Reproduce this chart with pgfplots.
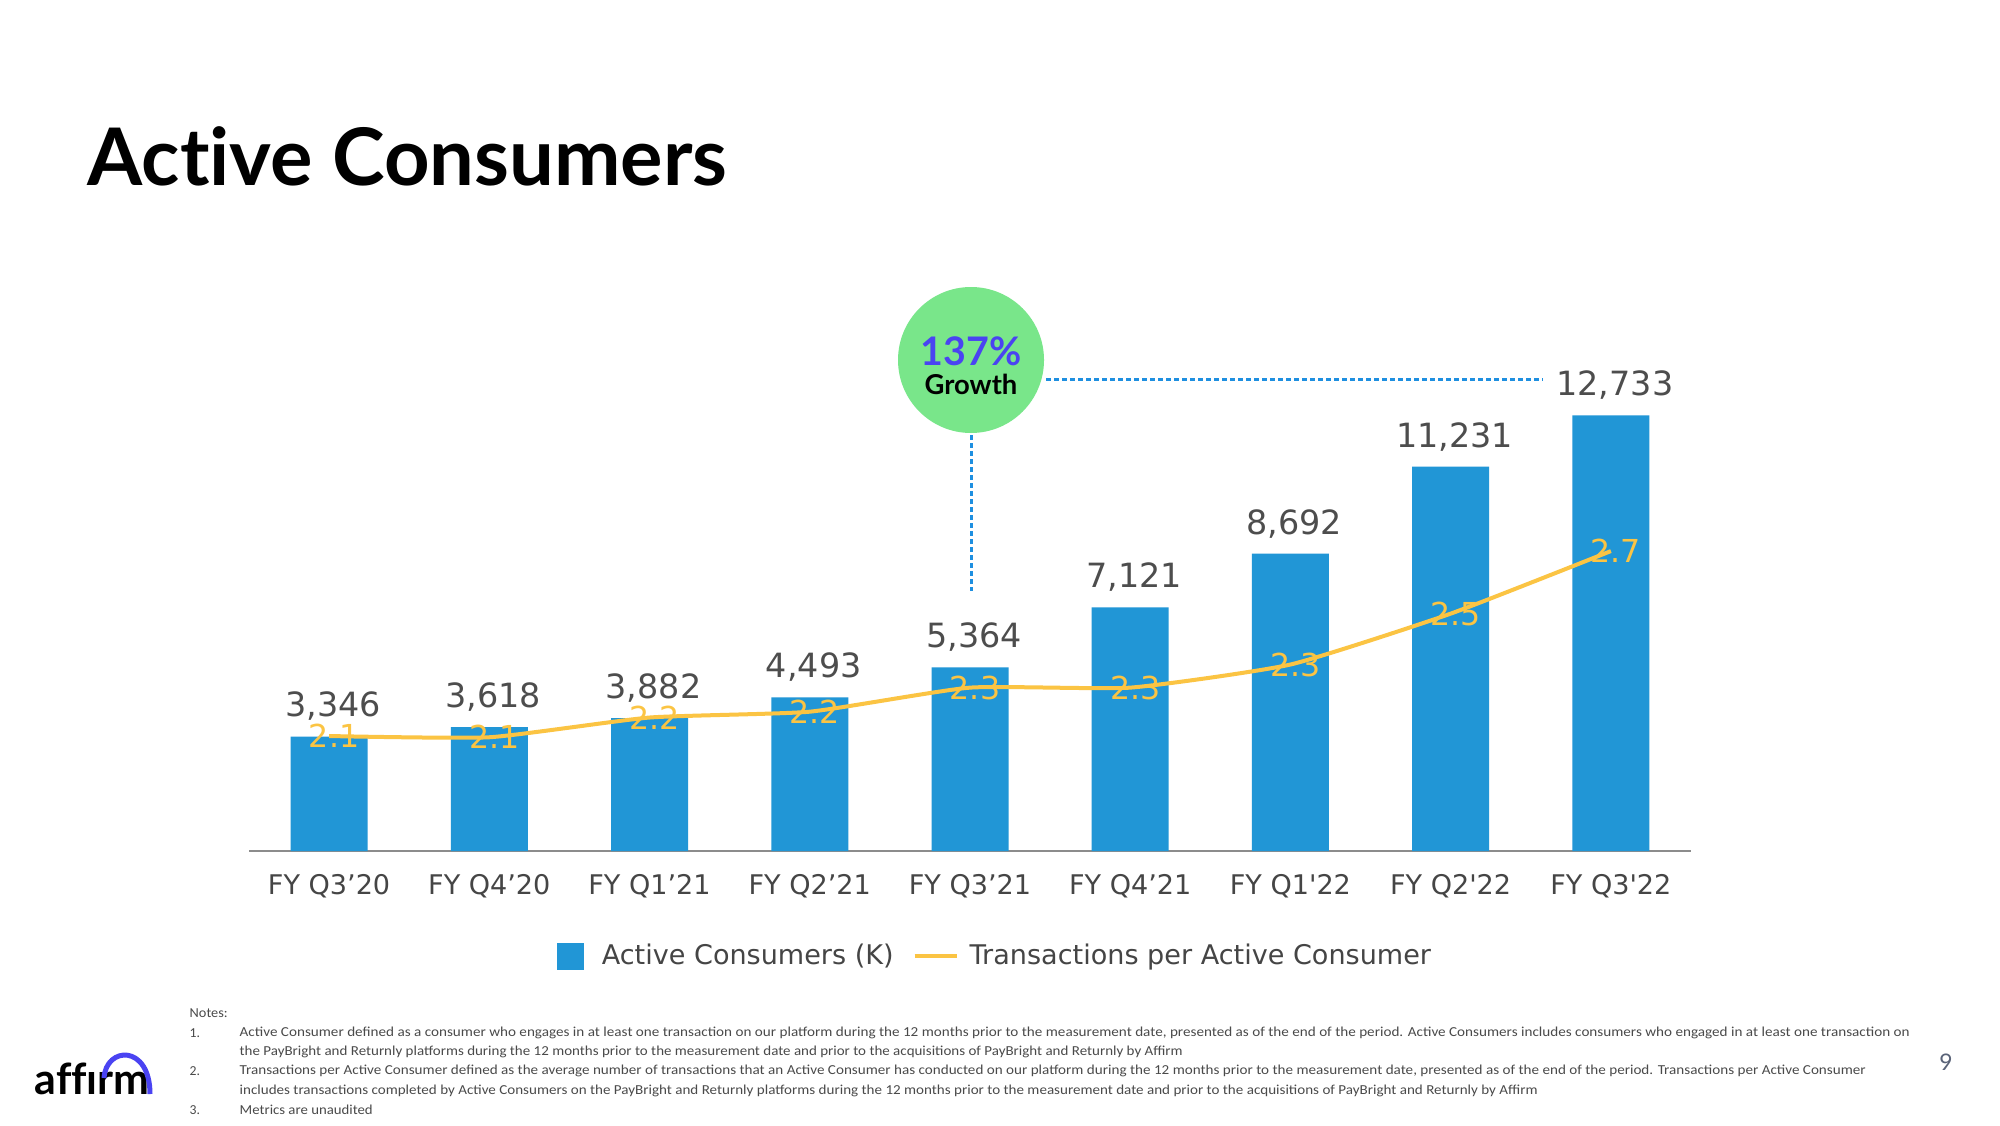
\documentclass[border=0pt]{standalone}
\usepackage{fontspec}
\usepackage{graphicx}
\usepackage{pgfplots}
\pgfplotsset{compat=1.18}
\setmainfont{DejaVu Sans}
\newfontfamily\dejavu{DejaVu Sans}
\newfontfamily\lato{Lato}[Ligatures=NoCommon]
\newfontfamily\carlito{Carlito}
\definecolor{barblue}{HTML}{2196D6}
\definecolor{linegold}{HTML}{FBC443}
\definecolor{numgray}{HTML}{4D4D4D}
\definecolor{tickgray}{HTML}{454545}
\definecolor{axisgray}{HTML}{8C8C8C}
\definecolor{growthgreen}{HTML}{79E68A}
\definecolor{affblue}{HTML}{4A43F2}
\definecolor{dotblue}{HTML}{1E8FE0}
\definecolor{notegray}{HTML}{4A4A4A}
\definecolor{pagegray}{HTML}{5A6378}
\begin{document}
\begin{tikzpicture}
\path[fill=white, use as bounding box] (0,0) rectangle (200mm,112.5mm);

\begin{axis}[
  at={(24.9mm,27.4mm)}, anchor=south west,
  scale only axis, width=144.2mm, height=47.9mm,
  xmin=-0.5, xmax=8.5, ymin=0, ymax=14000,
  clip=false,
  axis x line*=bottom, axis y line=none,
  x axis line style={draw=axisgray, line width=0.2mm},
  xtick={0,1,2,3,4,5,6,7,8},
  xticklabels={FY Q3’20, FY Q4’20, FY Q1’21, FY Q2’21, FY Q3’21, FY Q4’21, FY Q1\textquotesingle 22, FY Q2\textquotesingle 22, FY Q3\textquotesingle 22},
  xtick style={draw=none},
  major tick length=0pt,
  xticklabel style={font=\dejavu\fontsize{7.7}{8}\selectfont, text=tickgray, inner sep=0pt, anchor=north, yshift=-2.3mm},
  /pgf/number format/assume math mode=true,
  /pgf/number format/fixed,
  /pgf/number format/precision=0,
  /pgf/number format/1000 sep={,},
  legend columns=2,
  legend style={at={(0.5166,-0.220)}, anchor=center, draw=none, fill=none, inner sep=0pt,
    font=\dejavu\fontsize{7.7}{8}\selectfont, text=tickgray,
    nodes={inner sep=0pt},
    /tikz/every odd column/.append style={column sep=1.1mm},
    /tikz/every even column/.append style={column sep=1.9mm}},
]
\addplot[ybar, bar width=7.7mm, fill=barblue, draw=none,
  nodes near coords,
  nodes near coords style={font=\dejavu\fontsize{9.5}{10}\selectfont, text=numgray, anchor=south, inner sep=0pt, yshift=1.5mm, xshift=0.4mm},
  legend image code/.code={\fill[barblue] (0mm,-1.35mm) rectangle (2.7mm,1.35mm); \path (3.4mm,0mm);}]
  coordinates {(0,3346) (1,3618) (2,3882) (3,4493) (4,5364) (5,7121) (6,8692) (7,11231) (8,12733)};
\addlegendentry{Active Consumers (K)}
\addlegendimage{legend image code/.code={\draw[linegold, line width=0.4mm] (0mm,0mm) -- (4.2mm,0mm);}}
\addlegendentry{Transactions per Active Consumer}
\end{axis}

\begin{axis}[
  at={(24.9mm,27.4mm)}, anchor=south west,
  scale only axis, width=144.2mm, height=47.9mm,
  xmin=-0.5, xmax=8.5, ymin=1.727, ymax=3.281,
  clip=false, hide axis,
  /pgf/number format/assume math mode=true,
  /pgf/number format/fixed,
  /pgf/number format/fixed zerofill,
  /pgf/number format/precision=1,
]
\addplot[linegold, line width=0.4mm, smooth, tension=0.3,
  nodes near coords,
  every node near coord/.append style={font=\dejavu\fontsize{9}{10}\selectfont, text=linegold, anchor=center, inner sep=0pt, xshift=0.5mm}]
  coordinates {(0,2.100) (1,2.096) (2,2.16) (3,2.179) (4,2.257) (5,2.257) (6,2.332) (7,2.497) (8,2.700)};
\end{axis}

\begin{scope}[shift={(0,112.5mm)}, x=0.1mm, y=-0.1mm]
  \node[anchor=base west, inner sep=0pt] at (87,186) {\lato\bfseries\fontsize{22.6}{24}\selectfont Active Consumers};
  \fill[growthgreen] (971,360) circle[radius=7.3mm];
  \draw[dotblue, line width=0.3mm, dash pattern=on 0.45mm off 0.35mm] (1046,379) -- (1543,379);
  \draw[dotblue, line width=0.3mm, dash pattern=on 0.45mm off 0.35mm] (971,435) -- (971,591);
  \node[text=affblue, inner sep=0pt] at (971,351) {\lato\bfseries\fontsize{11.2}{12}\selectfont 137\%};
  \node[text=black, inner sep=0pt] at (971,384) {\lato\bfseries\fontsize{7.8}{8}\selectfont Growth};
  % notes
  \begin{scope}[every node/.style={anchor=west, inner sep=0pt, text=notegray}]
  \node at (189,1013) {\resizebox{3.8mm}{\height}{\carlito\fontsize{3.9}{4}\selectfont Notes:}};
  \node at (189,1033) {\carlito\fontsize{3.9}{4}\selectfont 1.};
  \node at (189,1071) {\carlito\fontsize{3.9}{4}\selectfont 2.};
  \node at (189,1110) {\carlito\fontsize{3.9}{4}\selectfont 3.};
  \node at (239,1033) {\resizebox{167mm}{\height}{\carlito\fontsize{3.9}{4}\selectfont Active Consumer defined as a consumer who engages in at least one transaction on our platform during the 12 months prior to the measurement date, presented as of the end of the period. Active Consumers includes consumers who engaged in at least one transaction on}};
  \node at (239,1052) {\resizebox{94.3mm}{\height}{\carlito\fontsize{3.9}{4}\selectfont the PayBright and Returnly platforms during the 12 months prior to the measurement date and prior to the acquisitions of PayBright and Returnly by Affirm}};
  \node at (239,1071) {\resizebox{162.6mm}{\height}{\carlito\fontsize{3.9}{4}\selectfont Transactions per Active Consumer defined as the average number of transactions that an Active Consumer has conducted on our platform during the 12 months prior to the measurement date, presented as of the end of the period. Transactions per Active Consumer}};
  \node at (239,1091) {\resizebox{129.8mm}{\height}{\carlito\fontsize{3.9}{4}\selectfont includes transactions completed by Active Consumers on the PayBright and Returnly platforms during the 12 months prior to the measurement date and prior to the acquisitions of PayBright and Returnly by Affirm}};
  \node at (239,1110) {\resizebox{13.3mm}{\height}{\carlito\fontsize{3.9}{4}\selectfont Metrics are unaudited}};
  \end{scope}
  % page number
  \node[text=pagegray, inner sep=0pt] at (1946,1062) {\lato\fontsize{6.5}{7}\selectfont 9};
  % logo
  \node[anchor=base west, inner sep=0pt] at (34,1094) {\lato\bfseries\fontsize{12.2}{13}\selectfont affırm};
  \draw[affblue, line width=0.5mm] (104,1078) .. controls (106,1046) and (150,1044) .. (150,1094);
\end{scope}
\end{tikzpicture}
\end{document}
